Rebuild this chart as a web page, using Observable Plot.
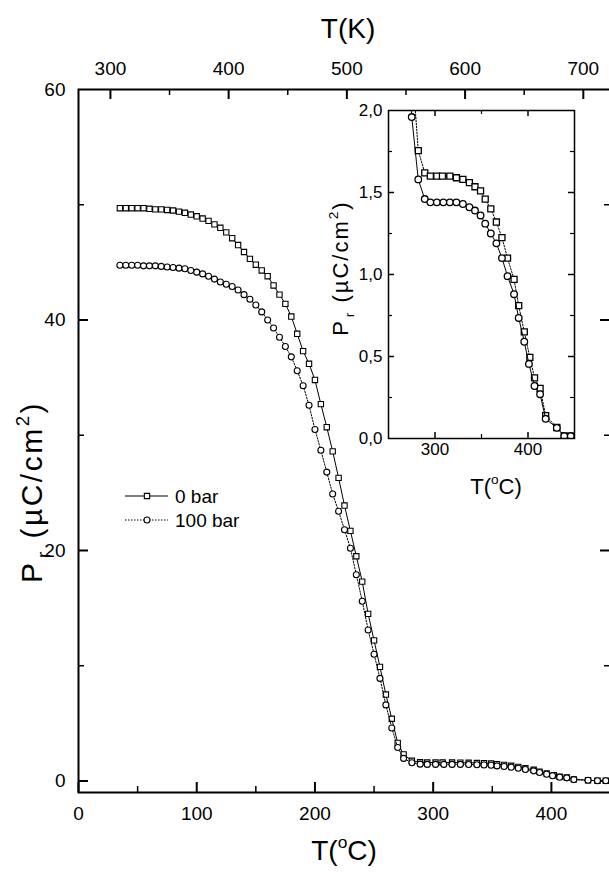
<!DOCTYPE html>
<html>
<head>
<meta charset="utf-8">
<script src="https://cdn.jsdelivr.net/npm/d3@7"></script>
<script src="https://cdn.jsdelivr.net/npm/@observablehq/plot@0.6"></script>
<style>
html, body { margin: 0; padding: 0; background: #fff; }
#chart { position: relative; width: 609px; height: 872px; overflow: hidden; }
#chart svg { position: absolute; }
</style>
</head>
<body>
<div id="chart"></div>
<script>
// ---------- data ----------
// low-temperature part (main plot), T in °C
const tempLow = [35,40,45,50,55,60,65,70,75,80,85,90,95,100,105,110,115,120,125,130,135,140,145,150,155,160,165,170,175,180,185,190,195,200,205,210,215,220,225,230,235,240,245,250,255,260,265,270];
// 0 bar (squares), Pr in µC/cm²
const pr0Low = [49.7,49.7,49.7,49.7,49.7,49.65,49.6,49.6,49.55,49.5,49.4,49.3,49.15,49.0,48.8,48.6,48.3,48.0,47.6,47.1,46.5,45.9,45.3,44.8,44.3,43.8,43.0,42.2,41.4,40.3,38.8,37.3,36.2,34.8,32.7,30.7,28.6,26.3,23.9,21.7,19.5,17.3,14.5,12.2,9.9,7.5,5.4,3.3];
// 100 bar (circles)
const pr100Low = [44.75,44.75,44.75,44.75,44.7,44.7,44.7,44.65,44.6,44.55,44.5,44.45,44.3,44.15,44.0,43.8,43.55,43.3,43.1,42.9,42.6,42.2,41.8,41.3,40.7,40.0,39.3,38.5,37.7,36.8,35.6,34.3,32.6,30.5,28.7,26.8,24.9,23.4,21.8,20.2,17.9,15.6,13.1,11.0,8.9,6.6,4.6,2.9];

// high-temperature part (main plot tail and inset)
const temp0High = [275,282,289,295,302,308,316,323,330,337,343,349,354,360,366,372,378,385,390,396,402,407,413,419,431,439,446];
const pr0High = [2.3,1.755,1.62,1.60,1.60,1.60,1.60,1.59,1.58,1.56,1.535,1.51,1.46,1.40,1.32,1.225,1.10,0.97,0.81,0.65,0.495,0.37,0.305,0.14,0.067,0.015,0.015];
const temp100High = [275,282,289,295,302,309,316,323,330,337,343,349,354,360,366,372,378,385,390,396,401,407,413,419,431,439,446];
const pr100High = [1.96,1.58,1.46,1.44,1.44,1.44,1.44,1.44,1.43,1.41,1.39,1.36,1.31,1.25,1.19,1.10,0.99,0.88,0.735,0.59,0.455,0.32,0.27,0.12,0.065,0.015,0.015];

// tick values
const xMajor = [0,100,200,300,400];
const xMinor = [50,150,250,350];
const kMajor = [300,400,500,600,700];
const kMinor = [350,450,550,650];
const yMajor = [0,20,40];
const yLabels = [0,20,40,60];
const yMinor = [10,30,50];
const insetXMajor = [300,400];
const insetXMinor = [350];
const insetYMajor = [0.5,1.0,1.5];
const insetYLabels = [0,0.5,1.0,1.5,2.0];
const insetYMinor = [0.25,0.75,1.25,1.75];
const seriesNames = ["0 bar", "100 bar"];

// ---------- build tables ----------
const s0 = tempLow.map((t,i)=>({t, p: pr0Low[i]})).concat(temp0High.map((t,i)=>({t, p: pr0High[i]})));
const s100 = tempLow.map((t,i)=>({t, p: pr100Low[i]})).concat(temp100High.map((t,i)=>({t, p: pr100High[i]})));

const FONT = "Arial, 'Liberation Sans', Helvetica, sans-serif";
const chart = document.getElementById("chart");

// ---------- main plot ----------
const W = 609, H = 872;
const mL = 78, mR = -1, mT = 89, mB = 80;
const fW = W - mL - mR, fH = H - mT - mB;
const maj = 10, mnr = 6;

const main = Plot.plot({
  width: W, height: H,
  marginLeft: mL, marginRight: mR, marginTop: mT, marginBottom: mB,
  style: {fontFamily: FONT, fontSize: "19px", color: "#000", background: "#fff"},
  x: {domain: [0, 450]},
  y: {domain: [-1, 60]},
  marks: [
    // inward ticks on all four sides
    Plot.tickX(xMajor, {x: d => d, insetTop: fH - maj, stroke: "#000", strokeWidth: 2}),
    Plot.tickX(xMinor, {x: d => d, insetTop: fH - mnr, stroke: "#000", strokeWidth: 1.5}),
    Plot.tickX(kMajor, {x: d => d - 273, insetBottom: fH - maj, stroke: "#000", strokeWidth: 2}),
    Plot.tickX(kMinor, {x: d => d - 273, insetBottom: fH - mnr, stroke: "#000", strokeWidth: 1.5}),
    Plot.tickY(yMajor, {y: d => d, insetRight: fW - maj, stroke: "#000", strokeWidth: 2}),
    Plot.tickY(yMinor, {y: d => d, insetRight: fW - mnr, stroke: "#000", strokeWidth: 1.5}),
    Plot.tickY(yMajor, {y: d => d, insetLeft: fW - maj, stroke: "#000", strokeWidth: 2}),
    Plot.tickY(yMinor, {y: d => d, insetLeft: fW - mnr, stroke: "#000", strokeWidth: 1.5}),
    Plot.axisX({anchor: "bottom", ticks: xMajor, tickSize: 0, tickPadding: 14, label: null}),
    Plot.axisX({anchor: "top", ticks: kMajor.map(k => k - 273), tickFormat: d => d + 273, tickSize: 0, tickPadding: 15, label: null}),
    Plot.axisY({anchor: "left", ticks: yLabels, tickSize: 0, tickPadding: 13, label: null}),
    Plot.frame({stroke: "#000", strokeWidth: 2}),
    // 0 bar
    Plot.line(s0, {x: "t", y: "p", stroke: "#000", strokeWidth: 1}),
    Plot.dot(s0, {x: "t", y: "p", symbol: "square", r: 3, stroke: "#000", fill: "#fff", strokeWidth: 1.1}),
    // 100 bar
    Plot.line(s100, {x: "t", y: "p", stroke: "#000", strokeWidth: 1, strokeDasharray: "1.5,1.5"}),
    Plot.dot(s100, {x: "t", y: "p", symbol: "circle", r: 3, stroke: "#000", fill: "#fff", strokeWidth: 1.1})
  ]
});
main.style.left = "0px"; main.style.top = "0px";
chart.appendChild(main);

// ---------- inset plot ----------
const iL = 60, iR = 8, iT = 8, iB = 30, iFW = 186, iFH = 328;
const imaj = 6, imnr = 4;
const fmtComma = d => d.toFixed(1).replace(".", ",");
const inset = Plot.plot({
  width: iL + iFW + iR, height: iT + iFH + iB,
  marginLeft: iL, marginRight: iR, marginTop: iT, marginBottom: iB,
  style: {fontFamily: FONT, fontSize: "17px", color: "#000", background: "transparent"},
  x: {domain: [250, 450]},
  y: {domain: [0, 2]},
  marks: [
    Plot.frame({fill: "#fff"}),
    Plot.tickX(insetXMajor, {x: d => d, insetTop: iFH - imaj, stroke: "#000", strokeWidth: 1.5}),
    Plot.tickX(insetXMinor, {x: d => d, insetTop: iFH - imnr, stroke: "#000", strokeWidth: 1.2}),
    Plot.tickX(insetXMajor, {x: d => d, insetBottom: iFH - imaj, stroke: "#000", strokeWidth: 1.5}),
    Plot.tickX(insetXMinor, {x: d => d, insetBottom: iFH - imnr, stroke: "#000", strokeWidth: 1.2}),
    Plot.tickY(insetYMajor, {y: d => d, insetRight: iFW - imaj, stroke: "#000", strokeWidth: 1.5}),
    Plot.tickY(insetYMinor, {y: d => d, insetRight: iFW - imnr, stroke: "#000", strokeWidth: 1.2}),
    Plot.tickY(insetYMajor, {y: d => d, insetLeft: iFW - imaj, stroke: "#000", strokeWidth: 1.5}),
    Plot.tickY(insetYMinor, {y: d => d, insetLeft: iFW - imnr, stroke: "#000", strokeWidth: 1.2}),
    Plot.axisX({anchor: "bottom", ticks: insetXMajor, tickSize: 0, tickPadding: 4, label: null}),
    Plot.axisY({anchor: "left", ticks: insetYLabels, tickFormat: fmtComma, tickSize: 0, tickPadding: 6, label: null}),
    Plot.line(s0, {x: "t", y: "p", stroke: "#000", strokeWidth: 1, strokeDasharray: "1.5,1.5", clip: true}),
    Plot.dot(s0, {x: "t", y: "p", symbol: "square", r: 3.4, stroke: "#000", fill: "#fff", strokeWidth: 1.3, clip: true}),
    Plot.line(s100, {x: "t", y: "p", stroke: "#000", strokeWidth: 1, clip: true}),
    Plot.dot(s100, {x: "t", y: "p", symbol: "circle", r: 3.3, stroke: "#000", fill: "#fff", strokeWidth: 1.3, clip: true}),
    Plot.frame({stroke: "#000", strokeWidth: 1.5})
  ]
});
inset.style.left = (388 - iL) + "px";
inset.style.top = (110 - iT) + "px";
chart.appendChild(inset);

// ---------- titles & legend (drawn into main svg) ----------
const svg = d3.select(main);
function title(cx, cy, size, parts, rotate, spacing) {
  const g = svg.append("text")
    .attr("text-anchor", "middle")
    .attr("font-family", FONT)
    .attr("font-size", size)
    .attr("letter-spacing", spacing || 0)
    .attr("fill", "#000");
  if (rotate) g.attr("transform", `translate(${cx + 0.35 * size},${cy}) rotate(-90)`);
  else g.attr("transform", `translate(${cx},${cy + 0.35 * size})`);
  parts.forEach(p => {
    g.append("tspan").attr("dy", p.dy || 0).attr("dx", p.dx || 0)
      .attr("font-size", p.small ? size * 0.62 : size).text(p.text);
  });
}
function degC(size) {
  return [{text: "T("}, {text: "o", small: true, dy: -0.42 * size}, {text: "C)", dy: 0.42 * size}];
}
function prLabel(size) {
  return [{text: "P"}, {text: "r", small: true, dy: 0.28 * size, dx: 0.08 * size}, {text: " (\u00b5C/cm", dy: -0.28 * size},
          {text: "2", small: true, dy: -0.42 * size}, {text: ")", dy: 0.42 * size}];
}
title(348, 28, 28, [{text: "T(K)"}]);
title(344, 850, 28, degC(28));
title(31, 492, 30, prLabel(30), true, 2.5);
title(496, 486, 22, degC(22));
title(340, 268, 22, prLabel(22), true, 2);

// legend
const legendRows = [
  {name: seriesNames[0], symbol: d3.symbolSquare, dash: null, y: 496},
  {name: seriesNames[1], symbol: d3.symbolCircle, dash: "1.5,1.5", y: 520}
];
legendRows.forEach(row => {
  svg.append("line").attr("x1", 125).attr("x2", 168).attr("y1", row.y).attr("y2", row.y)
    .attr("stroke", "#000").attr("stroke-width", 1).attr("stroke-dasharray", row.dash);
  svg.append("path").attr("d", d3.symbol(row.symbol, Math.PI * 9)())
    .attr("transform", `translate(147,${row.y})`)
    .attr("fill", "#fff").attr("stroke", "#000").attr("stroke-width", 1.1);
  svg.append("text").attr("x", 175).attr("y", row.y + 0.35 * 19)
    .attr("text-anchor", "start")
    .attr("font-family", FONT).attr("font-size", 19).attr("fill", "#000").text(row.name);
});
</script>
</body>
</html>
